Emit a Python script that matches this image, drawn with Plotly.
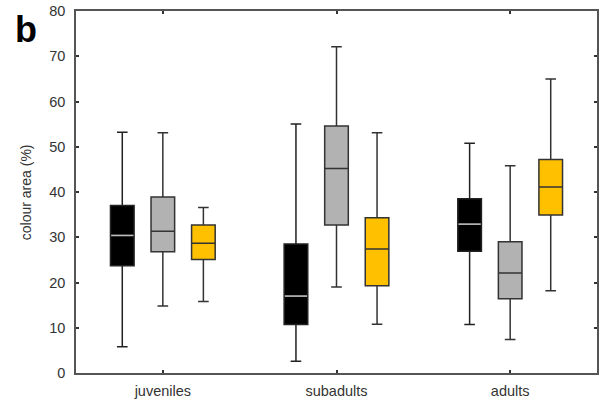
import plotly.graph_objects as go

categories = ["juveniles", "subadults", "adults"]
series_names = ["group 1", "group 2", "group 3"]

# per series: lower whisker, q1, median, q3, upper whisker (per category)
black_low = [5.8, 2.6, 10.7]
black_q1 = [23.7, 10.7, 26.9]
black_med = [30.4, 17.0, 32.9]
black_q3 = [37.0, 28.5, 38.5]
black_high = [53.2, 55.0, 50.8]

gray_low = [14.8, 19.0, 7.4]
gray_q1 = [26.8, 32.7, 16.4]
gray_med = [31.3, 45.2, 22.1]
gray_q3 = [38.9, 54.6, 29.0]
gray_high = [53.1, 72.1, 45.8]

gold_low = [15.8, 10.8, 18.2]
gold_q1 = [25.1, 19.3, 34.9]
gold_med = [28.7, 27.4, 41.1]
gold_q3 = [32.7, 34.3, 47.2]
gold_high = [36.6, 53.1, 65.0]

y_ticks = [0, 10, 20, 30, 40, 50, 60, 70, 80]

series = [
    (black_low, black_q1, black_med, black_q3, black_high, "#000000", "#222222"),
    (gray_low, gray_q1, gray_med, gray_q3, gray_high, "#b2b2b2", "#333333"),
    (gold_low, gold_q1, gold_med, gold_q3, gold_high, "#ffc000", "#333333"),
]
offsets = [-0.2335, 0.0, 0.2335]
box_w = 0.136

fig = go.Figure()
for k, (lo, q1, med, q3, hi, fill, lc) in enumerate(series):
    xs = [i + offsets[k] for i in range(len(categories))]
    fig.add_trace(go.Box(
        x=xs, lowerfence=lo, q1=q1, median=med, q3=q3, upperfence=hi,
        fillcolor=fill, line=dict(color=lc, width=1.5),
        width=box_w, whiskerwidth=0.45, name=series_names[k],
        boxpoints=False, showlegend=False, hoverinfo="skip",
    ))

# light median line inside the black boxes
for i, m in enumerate(black_med):
    cx = i + offsets[0]
    fig.add_trace(go.Scatter(
        x=[cx - box_w / 2 + 0.004, cx + box_w / 2 - 0.004], y=[m, m],
        mode="lines", line=dict(color="#bdbdbd", width=1.6),
        showlegend=False, hoverinfo="skip",
    ))

font = "Liberation Sans, Arial, Helvetica, sans-serif"
fig.update_layout(
    width=602, height=406,
    margin=dict(l=76, r=3, t=11, b=33),
    paper_bgcolor="white", plot_bgcolor="white",
    font=dict(family=font, size=14, color="#333333"),
    showlegend=False,
    xaxis=dict(
        range=[-0.5, 2.5], tickvals=list(range(len(categories))), ticktext=categories,
        showgrid=False, zeroline=False, showline=True, linecolor="#555555", linewidth=1.5,
        mirror="ticks", ticks="inside", ticklen=3, tickcolor="#333333", tickwidth=1.5,
        tickfont=dict(size=14.5, color="#333333"), ticklabelstandoff=4,
    ),
    yaxis=dict(
        range=[0, 80], tickvals=y_ticks,
        showgrid=False, zeroline=False, showline=True, linecolor="#555555", linewidth=1.5,
        mirror="ticks", ticks="inside", ticklen=3, tickcolor="#333333", tickwidth=1.5,
        tickfont=dict(size=14.5, color="#333333"), ticklabelstandoff=6,
    ),
    annotations=[
        dict(
            text="<b>b</b>", xref="paper", yref="paper", x=-0.121, y=0.949,
            xanchor="left", yanchor="middle", showarrow=False,
            font=dict(size=36, color="#000000", family=font),
        ),
        dict(
            text="colour area (%)", xref="paper", yref="paper", x=-0.0956, y=0.5,
            xanchor="center", yanchor="middle", textangle=-90, showarrow=False,
            font=dict(size=14, color="#333333", family=font),
        ),
    ],
)

fig.write_html("out.html")
